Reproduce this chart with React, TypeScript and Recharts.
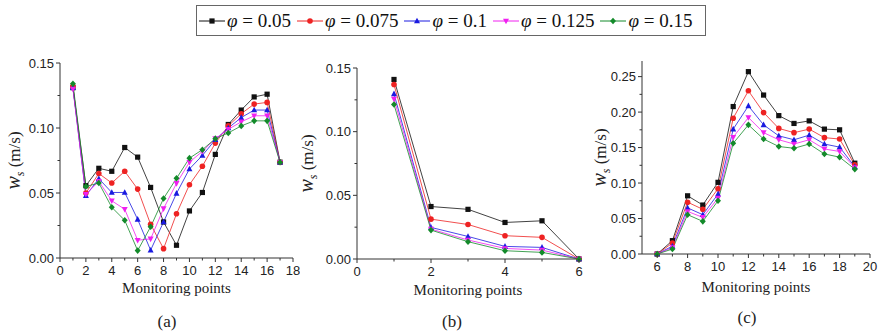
import React from "react";
import { LineChart, Line, XAxis, YAxis } from "recharts";

const FONT_SANS = '"Liberation Sans", Arial, sans-serif';
const FONT_SERIF = '"Liberation Serif", "Times New Roman", serif';

// series
const phiLabels = ["0.05", "0.075", "0.1", "0.125", "0.15"];
const seriesKeys = ["s0", "s1", "s2", "s3", "s4"];
const seriesColors = ["#111111", "#ee2222", "#1a1ae0", "#f020f0", "#138a2a"];
const markerShapes = ["square", "circle", "triangle", "invTriangle", "diamond"];

// panel (a)
const pointsA = [1, 2, 3, 4, 5, 6, 7, 8, 9, 10, 11, 12, 13, 14, 15, 16, 17];
const a005 = [0.131, 0.0556, 0.069, 0.0667, 0.085, 0.0776, 0.0543, 0.0277, 0.0098, 0.0362, 0.0504, 0.0797, 0.1027, 0.1138, 0.1239, 0.126, 0.0737];
const a0075 = [0.132, 0.05, 0.065, 0.0577, 0.0667, 0.053, 0.0259, 0.0072, 0.034, 0.0564, 0.0706, 0.0884, 0.1016, 0.111, 0.1184, 0.1197, 0.0737];
const a01 = [0.131, 0.048, 0.061, 0.0504, 0.0504, 0.0297, 0.006, 0.0277, 0.0497, 0.0685, 0.0789, 0.091, 0.1, 0.108, 0.1138, 0.1138, 0.0737];
const a0125 = [0.13, 0.049, 0.059, 0.044, 0.0375, 0.0137, 0.0147, 0.038, 0.0574, 0.0737, 0.082, 0.0918, 0.099, 0.1047, 0.1094, 0.1094, 0.0737];
const a015 = [0.134, 0.055, 0.0577, 0.039, 0.029, 0.0057, 0.024, 0.0458, 0.0613, 0.0768, 0.0833, 0.0918, 0.0962, 0.1016, 0.1055, 0.1055, 0.0737];

// panel (b)
const pointsB = [1, 2, 3, 4, 5, 6];
const b005 = [0.141, 0.0412, 0.039, 0.0287, 0.03, 0.0];
const b0075 = [0.137, 0.0313, 0.0271, 0.0183, 0.017, 0.0];
const b01 = [0.1297, 0.0248, 0.0177, 0.0099, 0.0091, 0.0];
const b0125 = [0.1257, 0.0235, 0.0149, 0.0083, 0.007, 0.0];
const b015 = [0.1213, 0.0227, 0.0136, 0.0065, 0.0052, 0.0];

// panel (c)
const pointsC = [6, 7, 8, 9, 10, 11, 12, 13, 14, 15, 16, 17, 18, 19];
const c005 = [0.0, 0.0188, 0.082, 0.069, 0.101, 0.2078, 0.257, 0.224, 0.195, 0.184, 0.1876, 0.176, 0.175, 0.128];
const c0075 = [0.0, 0.0155, 0.073, 0.063, 0.092, 0.1914, 0.23, 0.1993, 0.177, 0.171, 0.176, 0.164, 0.162, 0.1257];
const c01 = [0.0, 0.011, 0.065, 0.0554, 0.0844, 0.176, 0.2087, 0.182, 0.1665, 0.161, 0.1675, 0.155, 0.1506, 0.123];
const c0125 = [0.0, 0.009, 0.06, 0.0516, 0.0788, 0.1646, 0.1923, 0.171, 0.161, 0.155, 0.161, 0.148, 0.1445, 0.122];
const c015 = [0.0, 0.007, 0.0554, 0.046, 0.075, 0.156, 0.182, 0.162, 0.1515, 0.149, 0.155, 0.141, 0.1365, 0.1196];

// ticks
const xTicksA = [0, 1, 2, 3, 4, 5, 6, 7, 8, 9, 10, 11, 12, 13, 14, 15, 16, 17, 18];
const xMajorA = [0, 2, 4, 6, 8, 10, 12, 14, 16, 18];
const xTicksB = [0, 1, 2, 3, 4, 5, 6];
const xMajorB = [0, 2, 4, 6];
const xTicksC = [6, 7, 8, 9, 10, 11, 12, 13, 14, 15, 16, 17, 18, 19, 20];
const xMajorC = [6, 8, 10, 12, 14, 16, 18, 20];
const yTicksAB = [0, 0.025, 0.05, 0.075, 0.1, 0.125, 0.15];
const yMajorAB = [0, 0.05, 0.1, 0.15];
const yTicksC = [0, 0.025, 0.05, 0.075, 0.1, 0.125, 0.15, 0.175, 0.2, 0.225, 0.25];
const yMajorC = [0, 0.05, 0.1, 0.15, 0.2, 0.25];

function buildRows(xs: number[], cols: number[][]) {
  return xs.map((x, i) => {
    const row: Record<string, number> = { x };
    cols.forEach((c, k) => (row[seriesKeys[k]] = c[i]));
    return row;
  });
}

const dataA = buildRows(pointsA, [a005, a0075, a01, a0125, a015]);
const dataB = buildRows(pointsB, [b005, b0075, b01, b0125, b015]);
const dataC = buildRows(pointsC, [c005, c0075, c01, c0125, c015]);

const AXIS = "#333";

function Marker({ cx, cy, shape, color }: { cx: number; cy: number; shape: string; color: string }) {
  if (cx == null || cy == null) return null;
  if (shape === "square") return <rect x={cx - 2.6} y={cy - 2.6} width={5.2} height={5.2} fill={color} />;
  if (shape === "circle") return <circle cx={cx} cy={cy} r={2.8} fill={color} />;
  if (shape === "triangle")
    return <polygon points={`${cx},${cy - 3.3} ${cx - 3},${cy + 2.3} ${cx + 3},${cy + 2.3}`} fill={color} />;
  if (shape === "invTriangle")
    return <polygon points={`${cx},${cy + 3.3} ${cx - 3},${cy - 2.3} ${cx + 3},${cy - 2.3}`} fill={color} />;
  return <polygon points={`${cx},${cy - 3.3} ${cx + 3},${cy} ${cx},${cy + 3.3} ${cx - 3},${cy}`} fill={color} />;
}

const isMajor = (list: number[], v: number) => list.some((m) => Math.abs(m - v) < 1e-9);

function makeXTick(majors: number[]) {
  return (props: any) => {
    const { x, y, payload } = props;
    const major = isMajor(majors, payload.value);
    return (
      <g>
        <line x1={x} x2={x} y1={y} y2={y + (major ? 4 : 2.5)} stroke={AXIS} strokeWidth={1} />
        {major && (
          <text x={x} y={y + 17} textAnchor="middle" fontSize={13} fontFamily={FONT_SANS} fill="#222">
            {payload.value}
          </text>
        )}
      </g>
    );
  };
}

function makeYTick(majors: number[]) {
  return (props: any) => {
    const { x, y, payload } = props;
    const major = isMajor(majors, payload.value);
    return (
      <g>
        <line x1={x} x2={x - (major ? 4 : 2.5)} y1={y} y2={y} stroke={AXIS} strokeWidth={1} />
        {major && (
          <text x={x - 6} y={y + 4.5} textAnchor="end" fontSize={13} fontFamily={FONT_SANS} fill="#222">
            {payload.value.toFixed(2)}
          </text>
        )}
      </g>
    );
  };
}

type PanelProps = {
  left: number;
  width: number;
  height: number;
  margin: { top: number; right: number; bottom: number; left: number };
  yAxisWidth: number;
  data: Record<string, number>[];
  xDomain: [number, number];
  xTicks: number[];
  xMajor: number[];
  yDomain: [number, number];
  yTicks: number[];
  yMajor: number[];
  xTitleDy: number;
  yTitleX: number;
};

function Panel(p: PanelProps) {
  return (
    <div style={{ position: "absolute", left: p.left, top: 0 }}>
      <LineChart width={p.width} height={p.height} data={p.data} margin={p.margin}>
        <XAxis
          dataKey="x"
          type="number"
          domain={p.xDomain}
          ticks={p.xTicks}
          interval={0}
          height={30}
          tickSize={0}
          tickMargin={0}
          tickLine={false}
          axisLine={{ stroke: AXIS, strokeWidth: 1 }}
          tick={makeXTick(p.xMajor)}
          label={{
            content: (lp: any) => {
              const vb = lp.viewBox || {};
              return (
                <text
                  x={vb.x + vb.width / 2}
                  y={vb.y + p.xTitleDy}
                  textAnchor="middle"
                  fontSize={15}
                  fontFamily={FONT_SERIF}
                  fill="#222"
                >
                  Monitoring points
                </text>
              );
            },
          }}
        />
        <YAxis
          type="number"
          domain={p.yDomain}
          ticks={p.yTicks}
          interval={0}
          width={p.yAxisWidth}
          tickSize={0}
          tickMargin={0}
          tickLine={false}
          axisLine={{ stroke: AXIS, strokeWidth: 1 }}
          tick={makeYTick(p.yMajor)}
          label={{
            content: (lp: any) => {
              const vb = lp.viewBox || {};
              const cx = p.yTitleX;
              const cy = vb.y + vb.height / 2;
              return (
                <text
                  transform={`translate(${cx},${cy}) rotate(-90)`}
                  textAnchor="middle"
                  fontSize={17}
                  fontFamily={FONT_SERIF}
                  fill="#222"
                >
                  <tspan fontStyle="italic" fontSize={20}>w</tspan>
                  <tspan fontStyle="italic" fontSize={12} dy={4}>s</tspan>
                  <tspan dy={-4}> (m/s)</tspan>
                </text>
              );
            },
          }}
        />
        {seriesKeys.map((k, i) => (
          <Line
            key={k}
            dataKey={k}
            stroke={seriesColors[i]}
            strokeWidth={0.8}
            isAnimationActive={false}
            activeDot={false}
            dot={(dp: any) => (
              <Marker key={`${k}-${dp.index}`} cx={dp.cx} cy={dp.cy} shape={markerShapes[i]} color={seriesColors[i]} />
            )}
          />
        ))}
      </LineChart>
    </div>
  );
}

function LegendBox() {
  return (
    <div
      style={{
        position: "absolute",
        left: 196,
        top: 5,
        width: 510,
        height: 31,
        border: "1px solid #666",
        display: "flex",
        alignItems: "center",
        paddingLeft: 2,
        boxSizing: "border-box",
        fontFamily: FONT_SERIF,
        fontSize: 19,
        color: "#111",
        whiteSpace: "nowrap",
      }}
    >
      {phiLabels.map((lab, i) => (
        <div key={lab} style={{ display: "flex", alignItems: "center", marginRight: 6 }}>
          <svg width={26} height={12}>
            <line x1={0} x2={26} y1={6} y2={6} stroke={seriesColors[i]} strokeWidth={1} />
            <Marker cx={13} cy={6} shape={markerShapes[i]} color={seriesColors[i]} />
          </svg>
          <span style={{ marginLeft: 2 }}>
            <i>φ</i> = {lab}
          </span>
        </div>
      ))}
    </div>
  );
}

const captionStyle: React.CSSProperties = {
  position: "absolute",
  fontFamily: FONT_SERIF,
  fontSize: 17,
  color: "#222",
  transform: "translate(-50%, -50%)",
};

export default function App() {
  return (
    <div style={{ position: "absolute", left: 0, top: 0, width: 888, height: 335, background: "#fff", overflow: "hidden" }}>
      <LegendBox />
      <Panel
        left={0}
        width={300}
        height={300}
        margin={{ top: 63, right: 7, bottom: 12, left: 10 }}
        yAxisWidth={50}
        data={dataA}
        xDomain={[0, 18]}
        xTicks={xTicksA}
        xMajor={xMajorA}
        yDomain={[0, 0.15]}
        yTicks={yTicksAB}
        yMajor={yMajorAB}
        xTitleDy={35}
        yTitleX={20}
      />
      <Panel
        left={290}
        width={295}
        height={300}
        margin={{ top: 68, right: 6, bottom: 11, left: 15 }}
        yAxisWidth={52}
        data={dataB}
        xDomain={[0, 6]}
        xTicks={xTicksB}
        xMajor={xMajorB}
        yDomain={[0, 0.15]}
        yTicks={yTicksAB}
        yMajor={yMajorAB}
        xTitleDy={36}
        yTitleX={23}
      />
      <Panel
        left={580}
        width={300}
        height={300}
        margin={{ top: 61, right: 10, bottom: 16, left: 12 }}
        yAxisWidth={50}
        data={dataC}
        xDomain={[5, 20]}
        xTicks={xTicksC}
        xMajor={xMajorC}
        yDomain={[0, 0.272]}
        yTicks={yTicksC}
        yMajor={yMajorC}
        xTitleDy={38}
        yTitleX={26}
      />
      <div style={{ ...captionStyle, left: 167, top: 322 }}>(a)</div>
      <div style={{ ...captionStyle, left: 452, top: 322 }}>(b)</div>
      <div style={{ ...captionStyle, left: 747, top: 318 }}>(c)</div>
    </div>
  );
}
